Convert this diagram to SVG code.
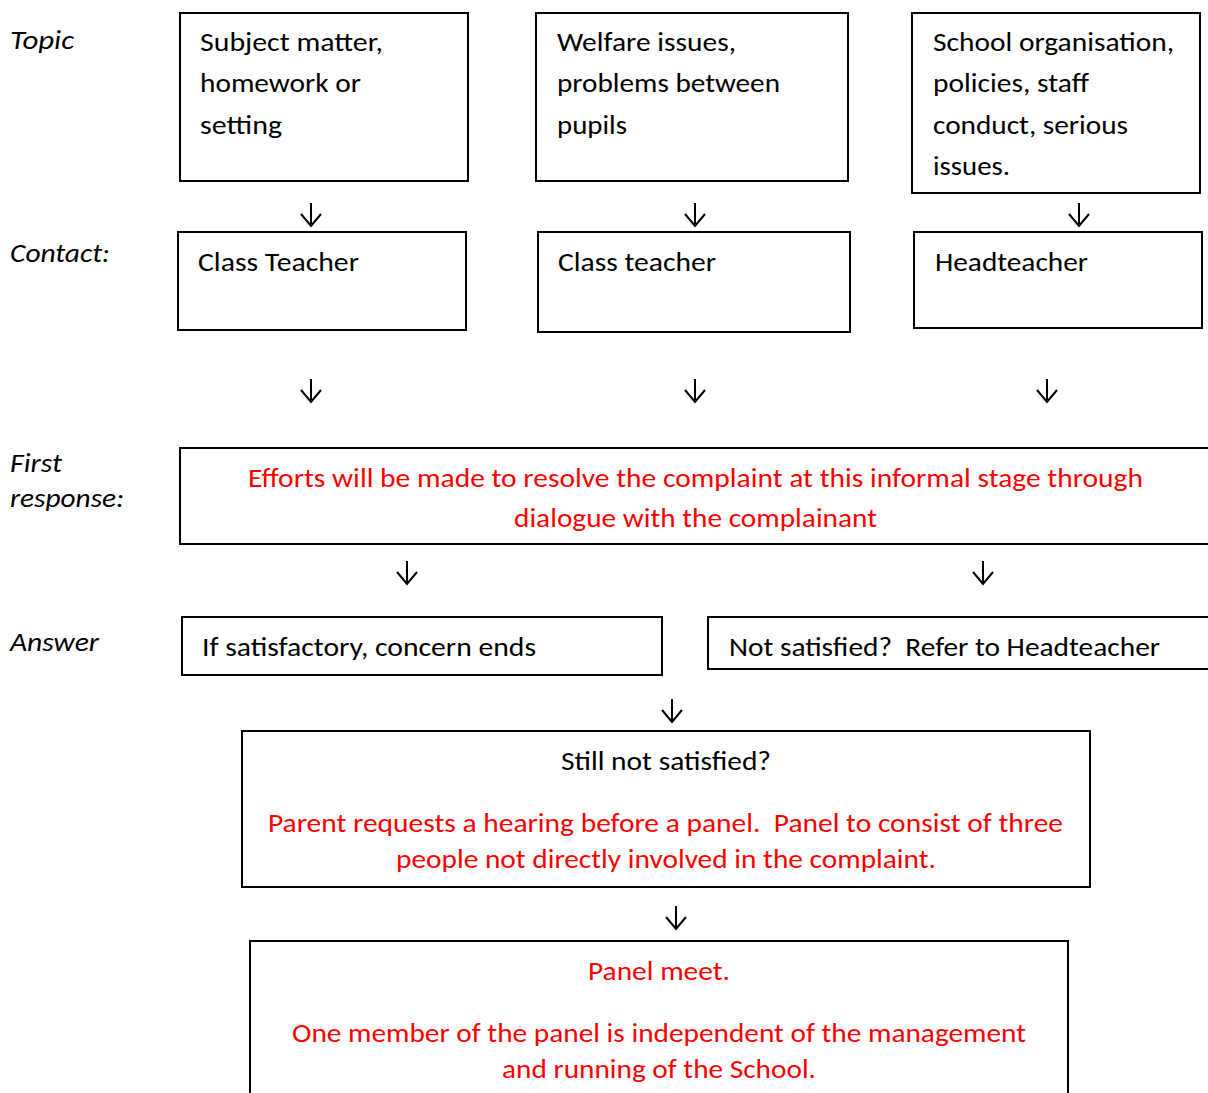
<svg xmlns="http://www.w3.org/2000/svg" width="1208" height="1093" viewBox="0 0 1208 1093">
<style>
  text { font-family: Carlito, Lato, "Open Sans", sans-serif; font-size: 26px; fill: #000; }
  .lbl { font-style: italic; }
  .red { fill: #ff0000; }
  .c { text-anchor: middle; }
  .box { fill: #fff; stroke: #000; stroke-width: 2; }
  .arr { fill: none; stroke: #000; stroke-width: 2; stroke-linecap: butt; stroke-linejoin: miter; }
</style>
<defs>
  <path id="arrow" d="M0,-11 V12 M-10,0 L0,12 L10,0" class="arr"/>
</defs>
<rect width="1208" height="1093" fill="#fff"/>

<g id="row-labels">
  <text class="lbl" x="10" y="49" textLength="64" lengthAdjust="spacingAndGlyphs">Topic</text>
  <text class="lbl" x="10" y="262" textLength="100" lengthAdjust="spacingAndGlyphs">Contact:</text>
  <text class="lbl" x="10" y="472" textLength="52" lengthAdjust="spacingAndGlyphs">First</text>
  <text class="lbl" x="10" y="507" textLength="114" lengthAdjust="spacingAndGlyphs">response:</text>
  <text class="lbl" x="10" y="651" textLength="89" lengthAdjust="spacingAndGlyphs">Answer</text>
</g>

<g id="topic-subject">
  <rect class="box" x="180" y="13" width="288" height="168"/>
  <text x="200" y="51" textLength="183" lengthAdjust="spacingAndGlyphs">Subject matter,</text>
  <text x="200" y="92" textLength="161" lengthAdjust="spacingAndGlyphs">homework or</text>
  <text x="200" y="134" textLength="82" lengthAdjust="spacingAndGlyphs">setting</text>
</g>

<g id="topic-welfare">
  <rect class="box" x="536" y="13" width="312" height="168"/>
  <text x="557" y="51" textLength="179" lengthAdjust="spacingAndGlyphs">Welfare issues,</text>
  <text x="557" y="92" textLength="223" lengthAdjust="spacingAndGlyphs">problems between</text>
  <text x="557" y="134" textLength="70" lengthAdjust="spacingAndGlyphs">pupils</text>
</g>

<g id="topic-school">
  <rect class="box" x="912" y="13" width="288" height="180"/>
  <text x="933" y="51" textLength="241" lengthAdjust="spacingAndGlyphs">School organisation,</text>
  <text x="933" y="92" textLength="156" lengthAdjust="spacingAndGlyphs">policies, staff</text>
  <text x="933" y="134" textLength="195" lengthAdjust="spacingAndGlyphs">conduct, serious</text>
  <text x="933" y="175" textLength="77" lengthAdjust="spacingAndGlyphs">issues.</text>
</g>

<g id="contact-class-teacher-1">
  <rect class="box" x="178" y="232" width="288" height="98"/>
  <text x="198" y="271" textLength="161" lengthAdjust="spacingAndGlyphs">Class Teacher</text>
</g>

<g id="contact-class-teacher-2">
  <rect class="box" x="538" y="232" width="312" height="100"/>
  <text x="558" y="271" textLength="158" lengthAdjust="spacingAndGlyphs">Class teacher</text>
</g>

<g id="contact-headteacher">
  <rect class="box" x="914" y="232" width="288" height="96"/>
  <text x="935" y="271" textLength="153" lengthAdjust="spacingAndGlyphs">Headteacher</text>
</g>

<g id="first-response">
  <rect class="box" x="180" y="448" width="1040" height="96"/>
  <text class="red c" x="695.5" y="487" textLength="895" lengthAdjust="spacingAndGlyphs">Efforts will be made to resolve the complaint at this informal stage through</text>
  <text class="red c" x="695.5" y="527" textLength="363" lengthAdjust="spacingAndGlyphs">dialogue with the complainant</text>
</g>

<g id="answer-satisfied">
  <rect class="box" x="182" y="617" width="480" height="58"/>
  <text x="202" y="656" textLength="334" lengthAdjust="spacingAndGlyphs">If satisfactory, concern ends</text>
</g>

<g id="answer-not-satisfied">
  <rect class="box" x="708" y="617" width="512" height="52"/>
  <text x="729" y="656" textLength="431" lengthAdjust="spacingAndGlyphs" xml:space="preserve">Not satisfied?  Refer to Headteacher</text>
</g>

<g id="still-not-satisfied">
  <rect class="box" x="242" y="731" width="848" height="156"/>
  <text class="c" x="666" y="770" textLength="210" lengthAdjust="spacingAndGlyphs">Still not satisfied?</text>
  <text class="red c" x="665.5" y="832" textLength="795" lengthAdjust="spacingAndGlyphs" xml:space="preserve">Parent requests a hearing before a panel.  Panel to consist of three</text>
  <text class="red c" x="666" y="868" textLength="540" lengthAdjust="spacingAndGlyphs">people not directly involved in the complaint.</text>
</g>

<g id="panel-meet">
  <rect class="box" x="250" y="941" width="818" height="160"/>
  <text class="red c" x="659" y="980" textLength="142" lengthAdjust="spacingAndGlyphs">Panel meet.</text>
  <text class="red c" x="659" y="1042" textLength="734" lengthAdjust="spacingAndGlyphs">One member of the panel is independent of the management</text>
  <text class="red c" x="659" y="1078" textLength="314" lengthAdjust="spacingAndGlyphs">and running of the School.</text>
</g>

<g id="connectors">
  <use href="#arrow" x="311" y="214"/>
  <use href="#arrow" x="695" y="214"/>
  <use href="#arrow" x="1079" y="214"/>
  <use href="#arrow" x="311" y="390"/>
  <use href="#arrow" x="695" y="390"/>
  <use href="#arrow" x="1047" y="390"/>
  <use href="#arrow" x="407" y="572"/>
  <use href="#arrow" x="983" y="572"/>
  <use href="#arrow" x="672" y="710"/>
  <use href="#arrow" x="676" y="917"/>
</g>
</svg>
